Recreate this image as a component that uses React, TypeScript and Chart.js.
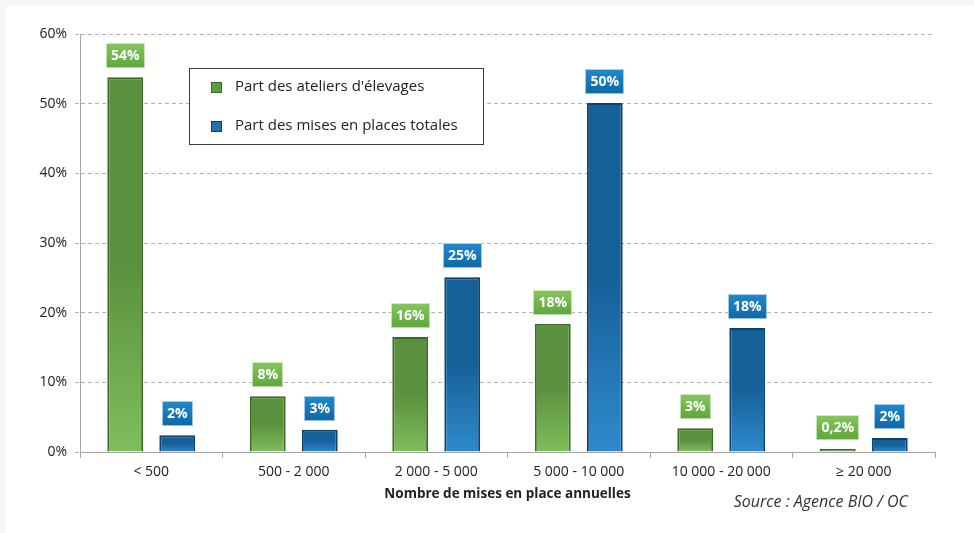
import React, { useEffect, useRef } from "react";
import { Chart, registerables } from "chart.js";

Chart.register(...registerables);

const categories = ["< 500", "500 - 2 000", "2 000 - 5 000", "5 000 - 10 000", "10 000 - 20 000", "≥ 20 000"];
const ateliers = [53.8, 8.0, 16.5, 18.4, 3.4, 0.2];
const misesEnPlace = [2.4, 3.2, 25.1, 50.1, 17.8, 2.0];
const ateliersLabels = ["54%", "8%", "16%", "18%", "3%", "0,2%"];
const misesLabels = ["2%", "3%", "25%", "50%", "18%", "2%"];
const seriesNames = ["Part des ateliers d'élevages", "Part des mises en places totales"];
const xTitle = "Nombre de mises en place annuelles";
const sourceText = "Source : Agence BIO / OC";

const FONT = "'Open Sans', 'Noto Sans', sans-serif";

const GREEN = { dark: "#5a913e", light: "#80be5c", border: "#3c6926", boxTop: "#86c75c", boxBot: "#5ea63b" };
const BLUE = { dark: "#16609a", light: "#2f8acb", border: "#0e426a", boxTop: "#2189cd", boxBot: "#0e68a6" };

function barGradient(pal: any) {
  return (ctx: any) => {
    const chart = ctx.chart;
    if (!chart.chartArea || ctx.type !== "data" || !chart.scales.y) return pal.dark;
    const y = chart.scales.y;
    const top = y.getPixelForValue(ctx.parsed.y);
    const bot = y.getPixelForValue(0);
    if (!isFinite(top) || !isFinite(bot) || bot - top < 1) return pal.dark;
    const g = chart.ctx.createLinearGradient(0, top, 0, bot);
    g.addColorStop(0, pal.dark);
    g.addColorStop(0.5, pal.dark);
    g.addColorStop(1, pal.light);
    return g;
  };
}

const decorPlugin = {
  id: "decor",
  beforeDraw(chart: any) {
    const c = chart.ctx;
    c.save();
    c.fillStyle = "#f6f6f6";
    c.fillRect(0, 0, chart.width, chart.height);
    c.fillStyle = "#ffffff";
    c.fillRect(6, 6, chart.width - 6, chart.height - 6);
    c.restore();
  },
  afterDatasetsDraw(chart: any) {
    const c = chart.ctx;
    const area = chart.chartArea;
    c.save();
    const labelSets = [ateliersLabels, misesLabels];
    const pals = [GREEN, BLUE];
    chart.data.datasets.forEach((ds: any, di: number) => {
      const meta = chart.getDatasetMeta(di);
      meta.data.forEach((el: any, i: number) => {
        const txt = labelSets[di][i];
        c.font = `bold 14px ${FONT}`;
        const w = Math.round(c.measureText(txt).width + 10);
        const h = 25;
        const x0 = Math.round(el.x - w / 2);
        const y1 = Math.round(Math.min(el.y, el.base - 2) - 9);
        const y0 = y1 - h;
        const g = c.createLinearGradient(0, y0, 0, y1);
        g.addColorStop(0, pals[di].boxTop);
        g.addColorStop(1, pals[di].boxBot);
        c.fillStyle = g;
        c.fillRect(x0, y0, w, h);
        c.strokeStyle = "rgba(255,255,255,0.6)";
        c.lineWidth = 1;
        c.strokeRect(x0 + 0.5, y0 + 0.5, w - 1, h - 1);
        c.fillStyle = "#ffffff";
        c.textAlign = "center";
        c.textBaseline = "middle";
        c.fillText(txt, el.x, y0 + h / 2 + 1);
      });
    });
    // legend
    const lx = 189, ly = 68, lw = 294, lh = 76;
    c.fillStyle = "#ffffff";
    c.fillRect(lx, ly, lw, lh);
    c.strokeStyle = "#404040";
    c.lineWidth = 1;
    c.strokeRect(lx + 0.5, ly + 0.5, lw, lh);
    const rows = [87, 126];
    rows.forEach((ry, i) => {
      const p = pals[i];
      c.fillStyle = i === 0 ? "#5f9a3f" : "#1f72b2";
      c.fillRect(212, ry - 4, 9, 9);
      c.strokeStyle = p.border;
      c.strokeRect(211.5, ry - 4.5, 10, 10);
      c.fillStyle = "#222222";
      c.font = `15px ${FONT}`;
      c.textAlign = "left";
      c.textBaseline = "middle";
      c.fillText(seriesNames[i], 235, ry);
    });
    // x title
    c.fillStyle = "#222222";
    c.font = `bold 13.5px ${FONT}`;
    c.textAlign = "center";
    c.textBaseline = "middle";
    c.fillText(xTitle, (area.left + area.right) / 2, 494);
    // source
    c.font = `italic 16px ${FONT}`;
    c.textAlign = "right";
    c.fillStyle = "#333333";
    c.fillText(sourceText, 908, 502);
    c.restore();
  },
};

export default function App() {
  const ref = useRef<HTMLCanvasElement | null>(null);
  useEffect(() => {
    document.body.style.margin = "0";
    const canvas = ref.current!;
    const chart = new Chart(canvas, {
      type: "bar",
      data: {
        labels: categories,
        datasets: [
          {
            label: seriesNames[0],
            data: ateliers,
            backgroundColor: barGradient(GREEN),
            borderColor: GREEN.border,
            borderWidth: 2,
            minBarLength: 3,
            categoryPercentage: 0.73,
            barPercentage: 0.69,
          },
          {
            label: seriesNames[1],
            data: misesEnPlace,
            backgroundColor: barGradient(BLUE),
            borderColor: BLUE.border,
            borderWidth: 2,
            minBarLength: 3,
            categoryPercentage: 0.73,
            barPercentage: 0.69,
          },
        ],
      },
      options: {
        responsive: false,
        animation: false,
        layout: { padding: { top: 34, right: 39, left: 0, bottom: 0 } },
        plugins: { legend: { display: false }, tooltip: { enabled: false }, title: { display: false } },
        scales: {
          x: {
            offset: true,
            grid: { drawOnChartArea: false, drawTicks: true, tickLength: 6, offset: true, color: "#a6a6a6" },
            border: { display: true, color: "#a6a6a6", width: 1 },
            ticks: { color: "#222222", font: { family: FONT, size: 14 }, padding: 6, maxRotation: 0 },
            afterFit: (s: any) => { s.height = 81; },
          },
          y: {
            min: 0,
            max: 60,
            ticks: { stepSize: 10, color: "#222222", font: { family: FONT, size: 14 }, padding: 8, callback: (v: any) => v + "%" },
            grid: { color: "#b4b4b4", tickLength: 5, tickBorderDash: [4, 3], tickColor: "#b4b4b4" },
            border: { display: true, color: "#a6a6a6", width: 1, dash: [4, 3] },
            afterFit: (s: any) => { s.width = 80; },
          },
        },
      },
      plugins: [decorPlugin],
    } as any);
    return () => chart.destroy();
  }, []);
  return <canvas ref={ref} width={974} height={533} style={{ display: "block" }} />;
}
